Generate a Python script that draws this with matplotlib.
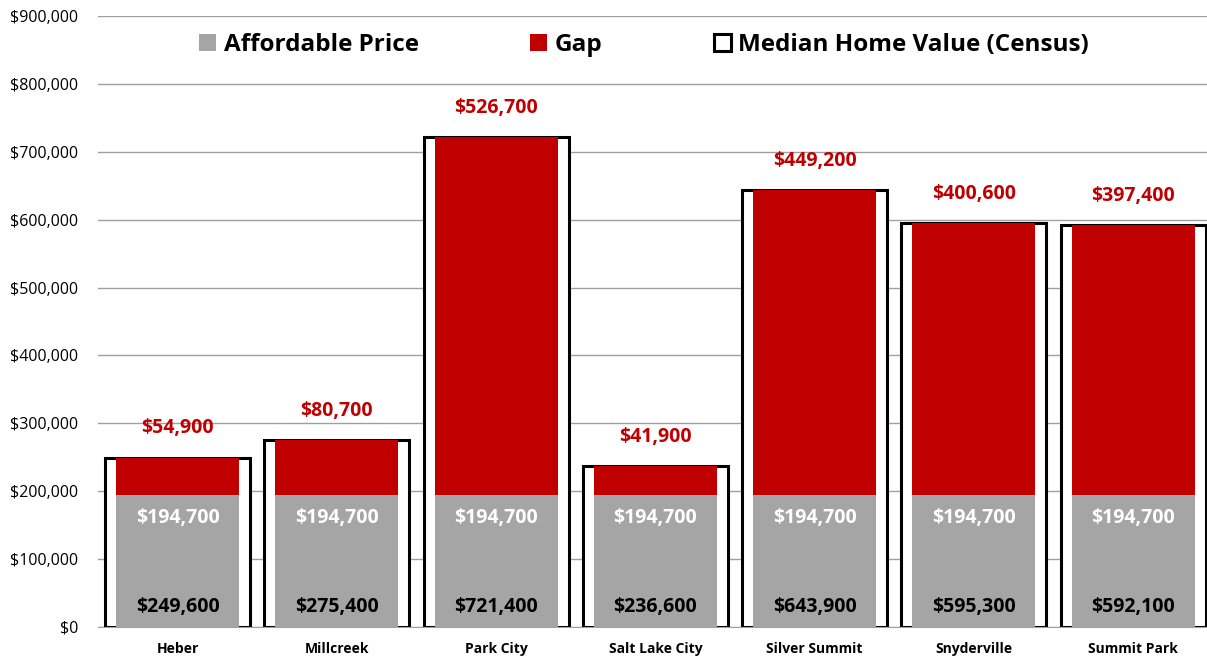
import matplotlib.pyplot as plt
from matplotlib.ticker import FuncFormatter

plt.rcParams['font.family'] = ['Open Sans', 'Noto Sans', 'DejaVu Sans']

places = ['Heber', 'Millcreek', 'Park City', 'Salt Lake City',
          'Silver Summit', 'Snyderville', 'Summit Park']
affordable = [194700, 194700, 194700, 194700, 194700, 194700, 194700]
median_value = [249600, 275400, 721400, 236600, 643900, 595300, 592100]
gap = [m - a for m, a in zip(median_value, affordable)]

GRAY = '#a5a5a5'
RED = '#c00000'

fig = plt.figure(figsize=(12.07, 6.56), dpi=100)
ax = fig.add_axes([98 / 1207, 29 / 656, 7 * 159.25 / 1207, 611 / 656])

x = list(range(len(places)))

# outer box = census median value
ax.bar(x, median_value, width=0.91, facecolor='white', edgecolor='black',
       linewidth=2.2, zorder=2, label='Median Home Value (Census)')
ax.bar(x, affordable, width=0.773, color=GRAY, zorder=3, label='Affordable Price')
ax.bar(x, gap, width=0.773, bottom=affordable, color=RED, zorder=3, label='Gap')

for i in x:
    ax.text(i, median_value[i] + 43000, '${:,.0f}'.format(gap[i]), ha='center',
            va='center', color=RED, fontsize=14, fontweight='bold', zorder=4)
    ax.text(i, 160000, '${:,.0f}'.format(affordable[i]), ha='center',
            va='center', color='white', fontsize=14, fontweight='bold', zorder=4)
    ax.text(i, 30000, '${:,.0f}'.format(median_value[i]), ha='center',
            va='center', color='black', fontsize=14, fontweight='bold', zorder=4)

ax.set_xlim(-0.5, 6.5)
ax.set_ylim(0, 900000)
ax.set_yticks(range(0, 900001, 100000))
ax.yaxis.set_major_formatter(FuncFormatter(lambda v, p: '${:,.0f}'.format(v)))
ax.set_xticks(x)
ax.set_xticklabels(places, fontsize=10, fontweight='bold')
ax.tick_params(axis='both', length=0)
ax.tick_params(axis='y', labelsize=11.5, pad=14)
ax.tick_params(axis='x', pad=11)
ax.grid(axis='y', color='#a0a0a0', linewidth=1, zorder=0)
ax.set_axisbelow(True)
for s in ['left', 'right', 'top']:
    ax.spines[s].set_visible(False)
ax.spines['bottom'].set_color('#a0a0a0')

handles, labels = ax.get_legend_handles_labels()
order = [1, 2, 0]
leg = ax.legend([handles[k] for k in order], [labels[k] for k in order],
                loc='upper center', bbox_to_anchor=(0.49, 1.008), ncol=3,
                frameon=False, prop={'size': 17.5, 'weight': 'bold'},
                handlelength=0.7, handleheight=0.7, handletextpad=0.3,
                columnspacing=4.6)

fig.savefig('out.png', dpi=100)
